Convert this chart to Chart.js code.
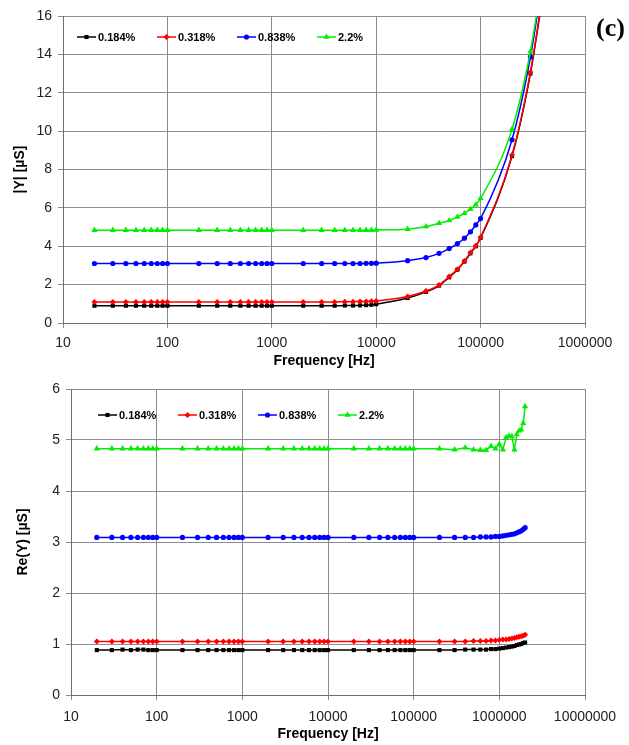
<!DOCTYPE html>
<html>
<head>
<meta charset="utf-8">
<script src="https://cdn.jsdelivr.net/npm/chart.js@4.4.1/dist/chart.umd.min.js"></script>
<style>
  html, body { margin: 0; padding: 0; background: #fff; }
  #wrap { position: relative; width: 629px; height: 745px; }
  .box { position: absolute; left: 0; width: 629px; }
  #boxTop { top: 0; height: 372px; }
  #boxBot { top: 372px; height: 373px; }
  #tag { position: absolute; left: 596px; top: 13px; font: bold 26px "Liberation Serif", "Times New Roman", serif; color: #000; }
</style>
</head>
<body>
<div id="wrap">
  <div class="box" id="boxTop"><canvas id="magChart"></canvas></div>
  <div class="box" id="boxBot"><canvas id="reChart"></canvas></div>
  <div id="tag">(c)</div>
</div>
<script>
// ---- series labels (concentration) ----
const seriesLabels = ['0.184%', '0.318%', '0.838%', '2.2%'];

// ---- |Y| panel ----
const freqTop = [
  20, 30, 40, 50, 60, 70, 80, 90, 100,
  200, 300, 400, 500, 600, 700, 800, 900, 1000,
  2000, 3000, 4000, 5000, 6000, 7000, 8000, 9000, 10000,
  20000, 30000, 40000, 50000, 60000, 70000, 80000, 90000, 100000,
  200000, 300000, 400000
];
const magBlack = [
  0.9, 0.9, 0.9, 0.9, 0.9, 0.9, 0.9, 0.9, 0.9,
  0.9, 0.9, 0.9, 0.9, 0.9, 0.9, 0.9, 0.9, 0.9,
  0.9, 0.9, 0.9, 0.91, 0.91, 0.92, 0.93, 0.95, 0.98,
  1.3, 1.62, 1.95, 2.38, 2.78, 3.2, 3.63, 4.0, 4.43,
  8.7, 13.0, 17.3
];
const magRed = [
  1.1, 1.1, 1.1, 1.1, 1.1, 1.1, 1.1, 1.1, 1.1,
  1.1, 1.1, 1.1, 1.1, 1.1, 1.1, 1.1, 1.1, 1.1,
  1.1, 1.1, 1.1, 1.11, 1.11, 1.12, 1.12, 1.13, 1.15,
  1.38, 1.67, 1.98, 2.42, 2.8, 3.23, 3.67, 4.03, 4.47,
  8.75, 13.07, 17.4
];
const magBlue = [
  3.1, 3.1, 3.1, 3.1, 3.1, 3.1, 3.1, 3.1, 3.1,
  3.1, 3.1, 3.1, 3.1, 3.1, 3.1, 3.1, 3.1, 3.1,
  3.1, 3.1, 3.1, 3.1, 3.1, 3.1, 3.11, 3.11, 3.12,
  3.25, 3.41, 3.63, 3.88, 4.14, 4.42, 4.75, 5.11, 5.44,
  9.55, 13.86, 18.2
];
const magGreen = [
  4.84, 4.84, 4.84, 4.84, 4.84, 4.84, 4.84, 4.84, 4.84,
  4.84, 4.84, 4.84, 4.84, 4.84, 4.84, 4.84, 4.84, 4.84,
  4.84, 4.84, 4.84, 4.84, 4.84, 4.84, 4.84, 4.84, 4.85,
  4.89, 5.03, 5.2, 5.34, 5.53, 5.72, 5.93, 6.17, 6.5,
  10.1, 14.15, 18.4
];
const decadesTop = [10, 100, 1000, 10000, 100000, 1000000];

// ---- Re(Y) panel ----
const freqBot = [
  20, 30, 40, 50, 60, 70, 80, 90, 100,
  200, 300, 400, 500, 600, 700, 800, 900, 1000,
  2000, 3000, 4000, 5000, 6000, 7000, 8000, 9000, 10000,
  20000, 30000, 40000, 50000, 60000, 70000, 80000, 90000, 100000,
  200000, 300000, 400000, 500000, 600000, 700000, 800000, 900000, 1000000,
  1100000, 1200000, 1300000, 1400000, 1500000, 1600000, 1700000, 1800000, 1900000, 2000000
];
const reBlack = [
  0.88, 0.88, 0.89, 0.88, 0.89, 0.89, 0.88, 0.88, 0.88,
  0.88, 0.88, 0.88, 0.88, 0.88, 0.88, 0.88, 0.88, 0.88,
  0.88, 0.88, 0.88, 0.88, 0.88, 0.88, 0.88, 0.88, 0.88,
  0.88, 0.88, 0.88, 0.88, 0.88, 0.88, 0.88, 0.88, 0.88,
  0.88, 0.88, 0.89, 0.89, 0.89, 0.89, 0.9, 0.9, 0.91,
  0.92, 0.93, 0.94, 0.95, 0.96, 0.98, 0.99, 1.0, 1.02, 1.03
];
const reRed = [
  1.05, 1.05, 1.05, 1.05, 1.05, 1.05, 1.05, 1.05, 1.05,
  1.05, 1.05, 1.05, 1.05, 1.05, 1.05, 1.05, 1.05, 1.05,
  1.05, 1.05, 1.05, 1.05, 1.05, 1.05, 1.05, 1.05, 1.05,
  1.05, 1.05, 1.05, 1.05, 1.05, 1.05, 1.05, 1.05, 1.05,
  1.05, 1.05, 1.05, 1.06, 1.06, 1.06, 1.07, 1.07, 1.08,
  1.09, 1.09, 1.1, 1.11, 1.12, 1.13, 1.14, 1.15, 1.16, 1.18
];
const reBlue = [
  3.09, 3.09, 3.09, 3.09, 3.09, 3.09, 3.09, 3.09, 3.09,
  3.09, 3.09, 3.09, 3.09, 3.09, 3.09, 3.09, 3.09, 3.09,
  3.09, 3.09, 3.09, 3.09, 3.09, 3.09, 3.09, 3.09, 3.09,
  3.09, 3.09, 3.09, 3.09, 3.09, 3.09, 3.09, 3.09, 3.09,
  3.09, 3.09, 3.09, 3.09, 3.1, 3.1, 3.1, 3.11, 3.11,
  3.12, 3.13, 3.14, 3.15, 3.16, 3.18, 3.2, 3.22, 3.25, 3.28
];
const reGreen = [
  4.83, 4.83, 4.83, 4.83, 4.83, 4.83, 4.83, 4.83, 4.83,
  4.83, 4.83, 4.83, 4.83, 4.83, 4.83, 4.83, 4.83, 4.83,
  4.83, 4.83, 4.83, 4.83, 4.83, 4.83, 4.83, 4.83, 4.83,
  4.83, 4.83, 4.83, 4.83, 4.83, 4.83, 4.83, 4.83, 4.83,
  4.83, 4.81, 4.85, 4.81, 4.8, 4.8, 4.88, 4.83, 4.92,
  4.81, 5.05, 5.08, 5.07, 4.81, 5.11, 5.18, 5.2, 5.33, 5.66
];
const decadesBot = [10, 100, 1000, 10000, 100000, 1000000, 10000000];

(() => {
    const FONT = '"Liberation Sans", Arial, sans-serif';
    const GRID = '#8c8c8c';
    const colors = ['#000000', '#ff0000', '#0000ff', '#00ee00'];
    const marks = [
        { pointStyle: 'rect', pointRadius: 2.9 },
        { pointStyle: 'rectRot', pointRadius: 3 },
        { pointStyle: 'circle', pointRadius: 2.6 },
        { pointStyle: 'triangle', pointRadius: 3.6 }
    ];

    // legend drawn inside the plot, one row, Excel style (line + marker + label)
    const insideLegend = {
        id: 'insideLegend',
        afterDraw(chart, args, opts) {
            const { ctx, chartArea } = chart;
            ctx.save();
            ctx.font = 'bold 11px ' + FONT;
            ctx.textBaseline = 'middle';
            chart.data.datasets.forEach((ds, i) => {
                const x = chartArea.left + opts.dx + i * 80;
                const y = chartArea.top + opts.dy;
                ctx.strokeStyle = ds.borderColor;
                ctx.lineWidth = 1.5;
                ctx.beginPath();
                ctx.moveTo(x, y);
                ctx.lineTo(x + 19, y);
                ctx.stroke();
                ctx.fillStyle = ds.borderColor;
                Chart.helpers.drawPoint(ctx, {
                    pointStyle: ds.pointStyle, radius: ds.pointRadius, rotation: 0, borderWidth: 0
                }, x + 9.5, y);
                ctx.fillStyle = '#000';
                ctx.fillText(ds.label, x + 21, y + 0.5);
            });
            ctx.restore();
        }
    };

    function buildSets(freqs, lists, smooth) {
        return lists.map((vals, i) => ({
            label: seriesLabels[i],
            data: freqs.map((f, k) => ({ x: f, y: vals[k] })),
            borderColor: colors[i],
            backgroundColor: colors[i],
            borderWidth: 1.5,
            pointStyle: marks[i].pointStyle,
            pointRadius: marks[i].pointRadius,
            pointBorderWidth: 0,
            cubicInterpolationMode: smooth ? 'monotone' : 'default',
            tension: 0,
            order: 4 - i
        }));
    }

    function makeChart(el, cfg) {
        return new Chart(el, {
            type: 'line',
            data: { datasets: buildSets(cfg.freqs, cfg.series, cfg.smooth) },
            options: {
                responsive: true,
                maintainAspectRatio: false,
                animation: false,
                layout: { padding: { top: cfg.padTop, right: 44, left: 0, bottom: 0 } },
                scales: {
                    x: {
                        type: 'logarithmic',
                        min: cfg.decades[0],
                        max: cfg.decades[cfg.decades.length - 1],
                        afterBuildTicks: (s) => { s.ticks = cfg.decades.map(v => ({ value: v })); },
                        afterFit: (s) => { s.height = cfg.xHeight; },
                        grid: { color: GRID, tickLength: 5 },
                        border: { color: '#6e6e6e' },
                        ticks: {
                            autoSkip: false, maxRotation: 0, padding: cfg.xPad,
                            color: '#222', font: { family: FONT, size: 14 },
                            callback: (v) => String(v)
                        },
                        title: {
                            display: true, text: 'Frequency [Hz]', color: '#000',
                            font: { family: FONT, size: 14, weight: 'bold' },
                            padding: { top: 0, bottom: 2 }
                        }
                    },
                    y: {
                        min: 0, max: cfg.yMax,
                        afterFit: (s) => { s.width = cfg.yWidth; },
                        grid: { color: GRID, tickLength: 5 },
                        border: { color: '#6e6e6e' },
                        ticks: {
                            stepSize: cfg.yStep, padding: 6,
                            color: '#222', font: { family: FONT, size: 14 }
                        },
                        title: {
                            display: true, text: cfg.yTitle, color: '#000',
                            font: { family: FONT, size: 14, weight: 'bold' },
                            padding: { top: cfg.yTitlePad, bottom: 0 }
                        }
                    }
                },
                plugins: {
                    legend: { display: false },
                    tooltip: { enabled: false },
                    insideLegend: cfg.legend
                }
            },
            plugins: [insideLegend]
        });
    }

    document.addEventListener('DOMContentLoaded', () => {
        makeChart(document.getElementById('magChart'), {
            freqs: freqTop,
            series: [magBlack, magRed, magBlue, magGreen],
            smooth: true,
            decades: decadesTop,
            yMax: 16, yStep: 2,
            yTitle: '|Y| [µS]',
            padTop: 16, xHeight: 49, yWidth: 63, xPad: 7, yTitlePad: 12,
            legend: { dx: 14, dy: 21 }
        });

        makeChart(document.getElementById('reChart'), {
            freqs: freqBot,
            series: [reBlack, reRed, reBlue, reGreen],
            smooth: false,
            decades: decadesBot,
            yMax: 6, yStep: 1,
            yTitle: 'Re(Y) [µS]',
            padTop: 17, xHeight: 50, yWidth: 71, xPad: 9, yTitlePad: 15,
            legend: { dx: 27, dy: 26 }
        });
    });
})();
</script>
</body>
</html>
